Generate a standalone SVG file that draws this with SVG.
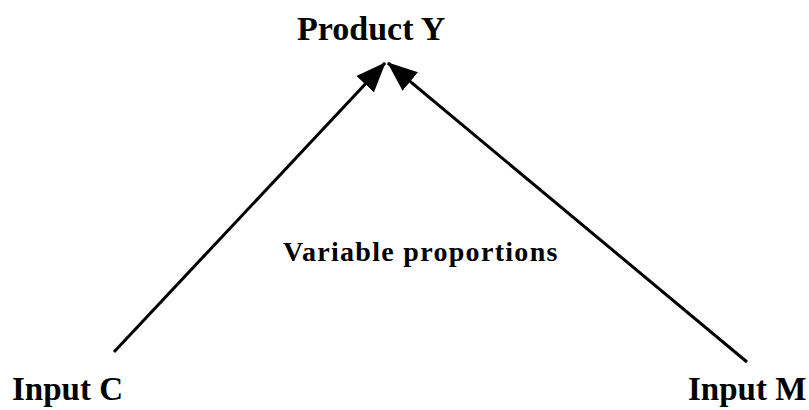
<svg xmlns="http://www.w3.org/2000/svg" width="809" height="410" viewBox="0 0 809 410">
<style>
text{font-family:"Liberation Serif","Times New Roman",serif;font-weight:bold;fill:#000}
.big{font-size:33px}
.title{font-size:34px}
.mid{font-size:28px;letter-spacing:1.3px}
.conn{stroke:#000;stroke-width:3;fill:none}
</style>
<defs>
<marker id="ah" markerUnits="userSpaceOnUse" markerWidth="30" markerHeight="24" refX="29" refY="12" orient="auto" viewBox="0 0 30 24">
<path d="M0,0 L30,12 L0,24 z" fill="#000"/>
</marker>
</defs>
<rect width="809" height="410" fill="#fff"/>
<g id="connectors">
<line class="conn" x1="114" y1="352" x2="385" y2="63" marker-end="url(#ah)"/>
<line class="conn" x1="747" y1="362" x2="388" y2="63" marker-end="url(#ah)"/>
</g>
<g id="product-y"><text class="title" x="297" y="40">Product Y</text></g>
<g id="input-c"><text class="big" x="12" y="400">Input C</text></g>
<g id="input-m"><text class="big" x="688" y="400">Input M</text></g>
<g id="label"><text class="mid" x="283" y="261">Variable proportions</text></g>
</svg>
